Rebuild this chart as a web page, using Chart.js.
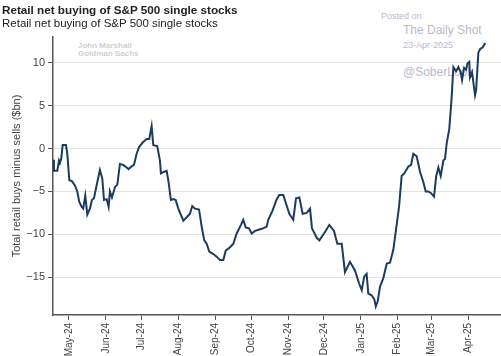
<!DOCTYPE html>
<html>
<head>
<meta charset="utf-8">
<script src="https://cdn.jsdelivr.net/npm/chart.js@4/dist/chart.umd.min.js"></script>
<style>
  html, body { margin: 0; padding: 0; background: #fff; }
  #wrap { position: relative; width: 501px; height: 356px; overflow: hidden; font-family: "Liberation Sans", Arial, sans-serif; }
  #c { position: absolute; left: 0; top: 0; z-index: 2; }
  .t { position: absolute; white-space: nowrap; z-index: 1; }
  #title { left: 2px; top: 3px; font-size: 11.7px; font-weight: bold; color: #222; z-index: 3; }
  #subtitle { left: 2px; top: 17px; font-size: 11.5px; color: #222; z-index: 3; }
  .wm { color: #cfcfcf; font-weight: bold; font-size: 8px; }
  .ds { color: #b9b9cf; }
</style>
</head>
<body>
<div id="wrap">
  <div class="t" id="title">Retail net buying of S&amp;P 500 single stocks</div>
  <div class="t" id="subtitle">Retail net buying of S&amp;P 500 single stocks</div>
  <div class="t wm" style="left:78px;top:41px;">John Marshall</div>
  <div class="t wm" style="left:78px;top:49px;">Goldman Sachs</div>
  <div class="t ds" style="left:381px;top:11px;font-size:9px;">Posted on</div>
  <div class="t ds" style="left:403px;top:23px;font-size:12px;">The Daily Shot</div>
  <div class="t ds" style="left:403px;top:40px;font-size:9px;">23-Apr-2025</div>
  <div class="t ds" style="left:403px;top:65px;font-size:12px;">@SoberLook</div>
  <canvas id="c" width="501" height="356"></canvas>
</div>
<script>
// Days since 1 May 2024
const dayOffsets = [
  -13.4, -12.6, -9.8, -8.4, -7.6, -6.5, -5.3, -2.5, -1.4, 0.3, 2.5, 5.0, 7.0, 8.6, 10.7, 12.0, 13.7, 15.4, 17.6, 19.3,
  21.0, 23.8, 26.0, 28.0, 29.4, 31.7, 33.3, 34.4, 36.1, 38.6, 40.6, 42.8, 45.6, 48.4, 50.1, 52.3, 54.6, 56.8, 59.0, 61.9,
  65.2, 67.4, 69.4, 70.8, 74.1, 76.4, 77.2, 80.0, 82.0, 83.4, 85.6, 87.9, 89.6, 91.8, 96.0, 98.8, 101.6, 103.5, 105.8, 109.2,
  111.4, 113.6, 115.6, 117.8, 121.2, 124.0, 126.8, 129.6, 131.6, 135.2, 138.0, 140.8, 144.4, 146.3, 148.4, 151.1, 153.4, 156.2, 160.4, 163.1,
  166.0, 167.3, 171.0, 174.4, 176.6, 179.9, 182.2, 185.0, 188.3, 190.6, 193.4, 196.2, 199.6, 202.4, 204.0, 208.0, 210.2, 214.1, 218.6, 222.5,
  225.3, 229.0, 231.7, 235.9, 240.1, 243.5, 245.8, 247.9, 249.9, 251.3, 254.1, 256.4, 257.6, 259.2, 261.1, 263.9, 266.8, 269.5, 272.3, 275.1,
  277.1, 279.3, 281.5, 284.9, 287.2, 289.1, 291.9, 294.7, 297.5, 299.5, 301.7, 304.0, 306.5, 308.2, 310.1, 312.1, 314.3, 315.7, 317.1, 319.3,
  321.3, 322.7, 325.0, 326.9, 328.9, 330.0, 331.7, 333.4, 334.5, 336.1, 336.7, 338.4, 340.9, 341.8, 343.7, 345.2, 347.4, 349.4
];
// Total retail buys minus sells ($bn)
const netBuying = [
  -1.3, -2.6, -2.6, -1.4, -1.7, -1.2, 0.4, 0.4, -0.6, -3.7, -3.8, -4.3, -5.0, -6.2, -6.8, -7.0, -5.5, -7.7, -7.0, -6.0,
  -5.8, -3.9, -2.5, -3.5, -6.0, -5.9, -6.8, -5.0, -5.7, -4.5, -4.2, -1.8, -1.9, -2.2, -2.4, -2.1, -1.9, -0.6, 0.2, 0.7,
  1.1, 1.1, 2.6, 0.4, 0.3, -1.4, -2.9, -2.7, -2.6, -3.7, -6.0, -5.9, -6.0, -7.0, -8.4, -8.0, -7.6, -6.7, -7.0, -7.1,
  -9.1, -10.7, -11.1, -12.0, -12.3, -12.6, -13.0, -13.0, -11.9, -11.5, -11.1, -9.9, -8.9, -8.3, -9.2, -9.3, -9.9, -9.6, -9.4, -9.3,
  -9.1, -8.3, -7.2, -5.9, -5.4, -5.4, -6.4, -7.6, -8.3, -5.8, -5.7, -7.6, -7.5, -7.0, -9.3, -10.4, -10.7, -9.9, -8.9, -9.6,
  -11.1, -11.1, -14.4, -13.2, -14.2, -15.7, -16.5, -14.9, -14.6, -16.9, -17.1, -17.6, -18.4, -17.8, -16.1, -15.1, -13.4, -13.3, -11.8, -8.9,
  -6.8, -3.2, -2.9, -2.1, -1.9, -0.6, -0.9, -2.7, -3.9, -5.0, -5.0, -5.2, -5.6, -3.3, -2.2, -3.2, -1.4, -1.2, 0.6, 2.3,
  6.0, 9.5, 9.0, 9.5, 8.9, 8.0, 9.4, 9.2, 9.9, 10.1, 8.3, 8.9, 6.2, 6.8, 11.2, 11.6, 11.8, 12.3
];
const monthTickDays = [0, 31, 61, 92, 123, 153, 184, 214, 245, 276, 304, 335];
const monthTickLabels = ['May-24', 'Jun-24', 'Jul-24', 'Aug-24', 'Sep-24', 'Oct-24', 'Nov-24', 'Dec-24', 'Jan-25', 'Feb-25', 'Mar-25', 'Apr-25'];
const yTickValues = [-15, -10, -5, 0, 5, 10];

const points = dayOffsets.map((d, i) => ({ x: d, y: netBuying[i] }));

new Chart(document.getElementById('c'), {
  type: 'line',
  data: {
    datasets: [{
      data: points,
      borderColor: '#1d3b60',
      borderWidth: 2,
      pointRadius: 0,
      tension: 0,
      fill: false
    }]
  },
  options: {
    responsive: false,
    animation: false,
    layout: { padding: { top: 37, left: 0, right: 0, bottom: 0 } },
    plugins: { legend: { display: false }, tooltip: { enabled: false } },
    scales: {
      x: {
        type: 'linear',
        min: -13.4,
        max: 362.7,
        afterBuildTicks: (s) => { s.ticks = monthTickDays.map(v => ({ value: v })); },
        afterFit: (s) => { s.height = 41; },
        grid: { drawOnChartArea: false, drawTicks: true, tickLength: 5, tickColor: '#555' },
        border: { display: true, color: '#555', width: 1.5 },
        ticks: {
          autoSkip: false,
          minRotation: 90,
          maxRotation: 90,
          padding: 3,
          color: '#444',
          font: { family: '"Liberation Sans", Arial, sans-serif', size: 10 },
          callback: (v) => { const i = monthTickDays.indexOf(v); return i >= 0 ? monthTickLabels[i] : ''; }
        }
      },
      y: {
        type: 'linear',
        min: -19.4,
        max: 13,
        afterBuildTicks: (s) => { s.ticks = yTickValues.map(v => ({ value: v })); },
        afterFit: (s) => { s.width = 53; },
        grid: { color: '#e2e2e2', lineWidth: 1, drawTicks: true, tickLength: 5, tickColor: '#555' },
        border: { display: true, color: '#555', width: 1.5 },
        ticks: {
          padding: 3,
          color: '#444',
          font: { family: '"Liberation Sans", Arial, sans-serif', size: 11 },
          callback: (v) => String(v).replace('-', '\u2212')
        },
        title: {
          display: true,
          text: 'Total retail buys minus sells ($bn)',
          color: '#444',
          font: { family: '"Liberation Sans", Arial, sans-serif', size: 11 },
          padding: { top: 10, bottom: 0 }
        }
      }
    }
  }
});
</script>
</body>
</html>
